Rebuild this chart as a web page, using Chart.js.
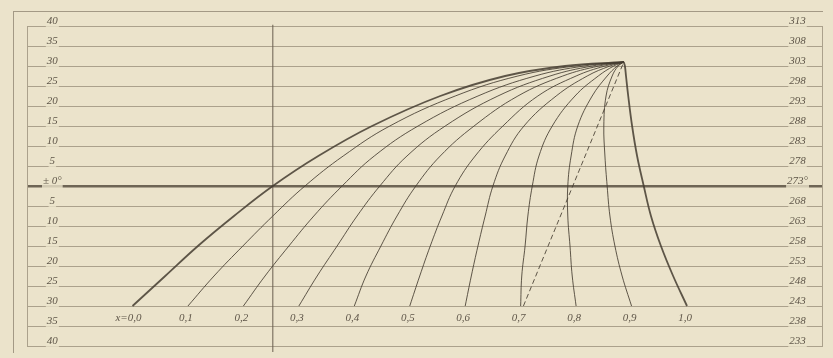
<!DOCTYPE html>
<html>
<head>
<meta charset="utf-8">
<script src="https://cdn.jsdelivr.net/npm/chart.js@4/dist/chart.umd.min.js"></script>
<style>
  body { margin: 0; background: #ebe3cb; }
  #wrap { position: relative; width: 833px; height: 358px; }
  #frame { position: absolute; left: 13px; top: 11px; width: 809px; height: 341px;
           border-left: 1px solid #a39985; border-top: 1px solid #a39985; }
  canvas { position: absolute; left: 0; top: 0; }
</style>
</head>
<body>
<div id="wrap">
  <div id="frame"></div>
  <canvas id="chart" width="833" height="358"></canvas>
</div>
<script>
// tick labels (left: degrees C, right: absolute temperature)
const leftTicks = ['40', '35', '30', '25', '20', '15', '10', '5', '\u00b1 0\u00b0', '5', '10', '15', '20', '25', '30', '35', '40'];
const rightTicks = ['313', '308', '303', '298', '293', '288', '283', '278', '273\u00b0', '268', '263', '258', '253', '248', '243', '238', '233'];

// composition labels along the bottom
const bottomLabels = ['x=0,0', '0,1', '0,2', '0,3', '0,4', '0,5', '0,6', '0,7', '0,8', '0,9', '1,0'];
const bottomValues = [0.0, 0.1, 0.2, 0.3, 0.4, 0.5, 0.6, 0.7, 0.8, 0.9, 1.0];

// temperatures at which each curve was read, bottom to top
const temps = [-30, -22.5, -15, -7.5, 0, 7.5, 15, 22.5, 27.5, 30, 31];

// x position of each curve at those temperatures
const c00 = [0, 0.059, 0.118, 0.183, 0.253, 0.335, 0.432, 0.555, 0.672, 0.780, 0.886];
const c01 = [0.1, 0.147, 0.199, 0.253, 0.311, 0.380, 0.464, 0.582, 0.695, 0.798, 0.886];
const c02 = [0.2, 0.239, 0.282, 0.327, 0.378, 0.436, 0.515, 0.623, 0.726, 0.814, 0.886];
const c03 = [0.3, 0.333, 0.369, 0.405, 0.446, 0.495, 0.564, 0.659, 0.753, 0.829, 0.886];
const c04 = [0.4, 0.421, 0.448, 0.477, 0.511, 0.555, 0.616, 0.695, 0.776, 0.841, 0.886];
const c05 = [0.5, 0.518, 0.537, 0.558, 0.582, 0.618, 0.668, 0.731, 0.800, 0.852, 0.886];
const c06 = [0.6, 0.611, 0.623, 0.636, 0.650, 0.672, 0.706, 0.764, 0.820, 0.861, 0.886];
const c07 = [0.7, 0.702, 0.708, 0.713, 0.721, 0.733, 0.757, 0.798, 0.840, 0.868, 0.886];
const c08 = [0.8, 0.793, 0.789, 0.785, 0.785, 0.791, 0.803, 0.829, 0.856, 0.874, 0.886];
const c09 = [0.9, 0.883, 0.870, 0.861, 0.856, 0.852, 0.850, 0.854, 0.865, 0.876, 0.886];
const c10 = [1.0, 0.975, 0.953, 0.935, 0.922, 0.910, 0.901, 0.894, 0.890, 0.888, 0.886];

// dashed straight line from x = 0,7 to the peak, and the vertical mark at 0°
const dashedX = [0.705, 0.886];
const dashedT = [-30, 31];
const markX = [0.253, 0.253];
const markT = [40.3, -41.5];

const INK = 'rgba(68, 60, 48, 0.85)';
const RULE = '#aba18c';
const TEXT = '#5f5649';
const FONT = {family: 'Liberation Serif', size: 11, style: 'italic'};

function pts(xs, ys) {
    return xs.map((x, i) => ({x: x, y: ys[i]}));
}

function curve(xs, width) {
    return {data: pts(xs, temps), showLine: true, pointRadius: 0, borderColor: INK, borderWidth: width, tension: 0.4, fill: false};
}

const datasets = [
    curve(c00, 1.8), curve(c01, 1), curve(c02, 1), curve(c03, 1), curve(c04, 1), curve(c05, 1),
    curve(c06, 1), curve(c07, 1), curve(c08, 1), curve(c09, 1), curve(c10, 1.8),
    {data: pts(dashedX, dashedT), showLine: true, pointRadius: 0, borderColor: INK, borderWidth: 1, borderDash: [5, 3]},
    {data: pts(markX, markT), showLine: true, pointRadius: 0, borderColor: 'rgba(100, 90, 75, 0.8)', borderWidth: 1.2, clip: false}
];

// writes the composition labels under the curves
const bottomLabelPlugin = {
    id: 'bottomLabels',
    afterDatasetsDraw(chart) {
        const {ctx, scales} = chart;
        ctx.save();
        ctx.fillStyle = TEXT;
        ctx.font = 'italic 11px "Liberation Serif"';
        ctx.textBaseline = 'middle';
        const y = scales.y.getPixelForValue(-33);
        bottomLabels.forEach((label, i) => {
            const x = scales.x.getPixelForValue(bottomValues[i]);
            if (i === 0) {
                ctx.textAlign = 'right';
                ctx.fillText(label, x + 9, y);
            } else {
                ctx.textAlign = 'center';
                ctx.fillText(label, x - 2, y);
            }
        });
        ctx.restore();
    }
};

// mirrored labels should not take room from the plot
const flatAxis = scale => {
    scale.width = 0;
    scale.paddingTop = 0;
    scale.paddingBottom = 0;
};

const ctx = document.getElementById('chart').getContext('2d');
const chart = new Chart(ctx, {
    type: 'scatter',
    data: {datasets: datasets},
    options: {
        responsive: false,
        animation: false,
        layout: {padding: {left: 27, right: 11, top: 26, bottom: 12}},
        plugins: {legend: {display: false}, tooltip: {enabled: false}},
        scales: {
            x: {type: 'linear', display: false, min: -0.19026, max: 1.24346},
            y: {
                position: 'left', min: -40, max: 40, afterFit: flatAxis,
                ticks: {
                    stepSize: 5, mirror: true, crossAlign: 'center', padding: 16, labelOffset: -5,
                    color: TEXT, font: FONT,
                    showLabelBackdrop: true, backdropColor: 'rgba(235, 227, 203, 0.8)', backdropPadding: 1,
                    callback: v => leftTicks[(40 - v) / 5]
                },
                grid: {
                    drawTicks: false,
                    color: ctx => ctx.tick && ctx.tick.value === 0 ? '#6e6555' : RULE,
                    lineWidth: ctx => ctx.tick && ctx.tick.value === 0 ? 2.5 : 1
                },
                border: {color: RULE, width: 1}
            },
            y2: {
                position: 'right', min: 233, max: 313, afterFit: flatAxis,
                ticks: {
                    stepSize: 5, mirror: true, crossAlign: 'center', padding: -14, labelOffset: -5,
                    color: TEXT, font: FONT,
                    showLabelBackdrop: true, backdropColor: 'rgba(235, 227, 203, 0.8)', backdropPadding: 1,
                    callback: v => rightTicks[(313 - v) / 5]
                },
                grid: {display: false, drawTicks: false},
                border: {color: RULE, width: 1}
            }
        }
    },
    plugins: [bottomLabelPlugin]
});
</script>
</body>
</html>
